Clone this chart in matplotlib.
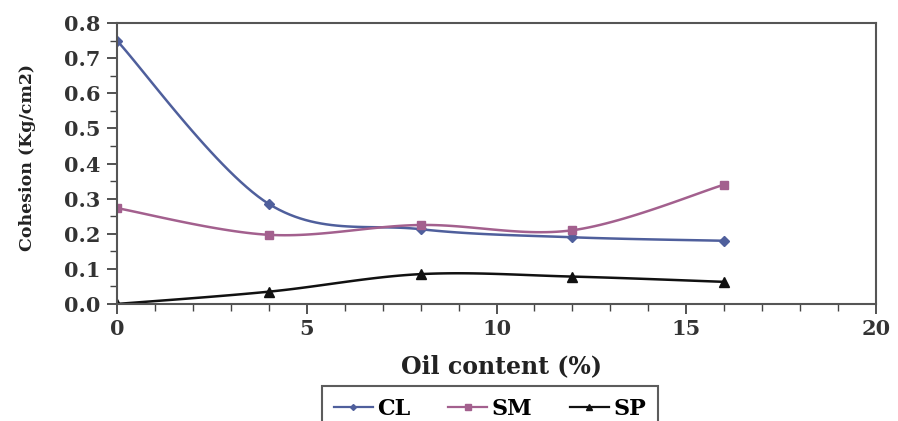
import numpy as np
import matplotlib
matplotlib.use("Agg")
from matplotlib import pyplot as plt
from matplotlib.ticker import MultipleLocator

# oil content (%) and cohesion (Kg/cm2) for each soil
oil_content = [0, 4, 8, 12, 16]
cohesion_cl = [0.75, 0.285, 0.213, 0.19, 0.18]
cohesion_sm = [0.273, 0.197, 0.225, 0.21, 0.34]
cohesion_sp = [0.0, 0.035, 0.085, 0.078, 0.063]
soil_names = ["CL", "SM", "SP"]


def smooth(x, y, n=30):
	# catmull-rom curve through the measured points, ends clamped
	x = np.asarray(x, float)
	y = np.asarray(y, float)
	px = np.concatenate([[x[0]], x, [x[-1]]])
	py = np.concatenate([[y[0]], y, [y[-1]]])
	xs, ys = [], []
	t = np.linspace(0, 1, n)
	for i in range(1, len(px) - 2):
		for p, out in ((px, xs), (py, ys)):
			p0, p1, p2, p3 = p[i - 1], p[i], p[i + 1], p[i + 2]
			out.extend(0.5 * ((2 * p1) + (-p0 + p2) * t
			                  + (2 * p0 - 5 * p1 + 4 * p2 - p3) * t ** 2
			                  + (-p0 + 3 * p1 - 3 * p2 + p3) * t ** 3))
	return xs, ys


plt.rcParams['font.family'] = ['DejaVu Serif']

fig = plt.figure(figsize=(8.98, 4.21), dpi=100)
ax = fig.add_axes([0.1303, 0.278, 0.8452, 0.667])

styles = [
	("#4f5f9c", "D", 5),
	("#a3608e", "s", 6),
	("#111111", "^", 7),
]
series = [cohesion_cl, cohesion_sm, cohesion_sp]
for name, vals, (col, mk, ms) in zip(soil_names, series, styles):
	sx, sy = smooth(oil_content, vals)
	ax.plot(sx, sy, color=col, lw=1.8)
	ax.plot(oil_content, vals, linestyle="none", marker=mk, color=col,
	        markersize=ms)
	ax.plot([], [], color=col, lw=1.6, marker=mk, markersize=ms - 2, label=name)

ax.set_xlim(0, 20)
ax.set_ylim(0, 0.8)
ax.xaxis.set_major_locator(MultipleLocator(5))
ax.xaxis.set_minor_locator(MultipleLocator(1))
ax.yaxis.set_major_locator(MultipleLocator(0.1))
ax.yaxis.set_minor_locator(MultipleLocator(0.05))
ax.yaxis.set_major_formatter(plt.FormatStrFormatter("%.1f"))
ax.tick_params(which="major", direction="out", length=7, width=1.3,
               labelsize=15, colors="#444444", labelcolor="#333333")
ax.tick_params(which="minor", direction="out", length=5, width=1.0,
               colors="#444444")
ax.tick_params(axis="y", pad=5)
ax.tick_params(axis="x", pad=4)
for sp in ax.spines.values():
	sp.set_color("#555555")
	sp.set_linewidth(1.5)
for lbl in ax.get_xticklabels() + ax.get_yticklabels():
	lbl.set_fontweight("bold")

ax.set_xlabel("Oil content (%)", fontsize=17, fontweight="bold",
              color="#222222")
ax.xaxis.set_label_coords(0.506, -0.178)
ax.set_ylabel("Cohesion (Kg/cm2)", fontsize=12.5, fontweight="bold",
              color="#222222")
ax.yaxis.set_label_coords(-0.107, 0.52)

leg = fig.legend(loc="upper center", bbox_to_anchor=(0.5457, 1 - 386 / 421),
                 ncol=3, prop={"size": 16, "weight": "bold"}, frameon=True,
                 fancybox=False, handlelength=1.75, handletextpad=0.2,
                 columnspacing=1.7, borderpad=0.55, borderaxespad=0)
leg.get_frame().set_edgecolor("#333333")
leg.get_frame().set_linewidth(1.5)

fig.savefig("out.png", dpi=100)
